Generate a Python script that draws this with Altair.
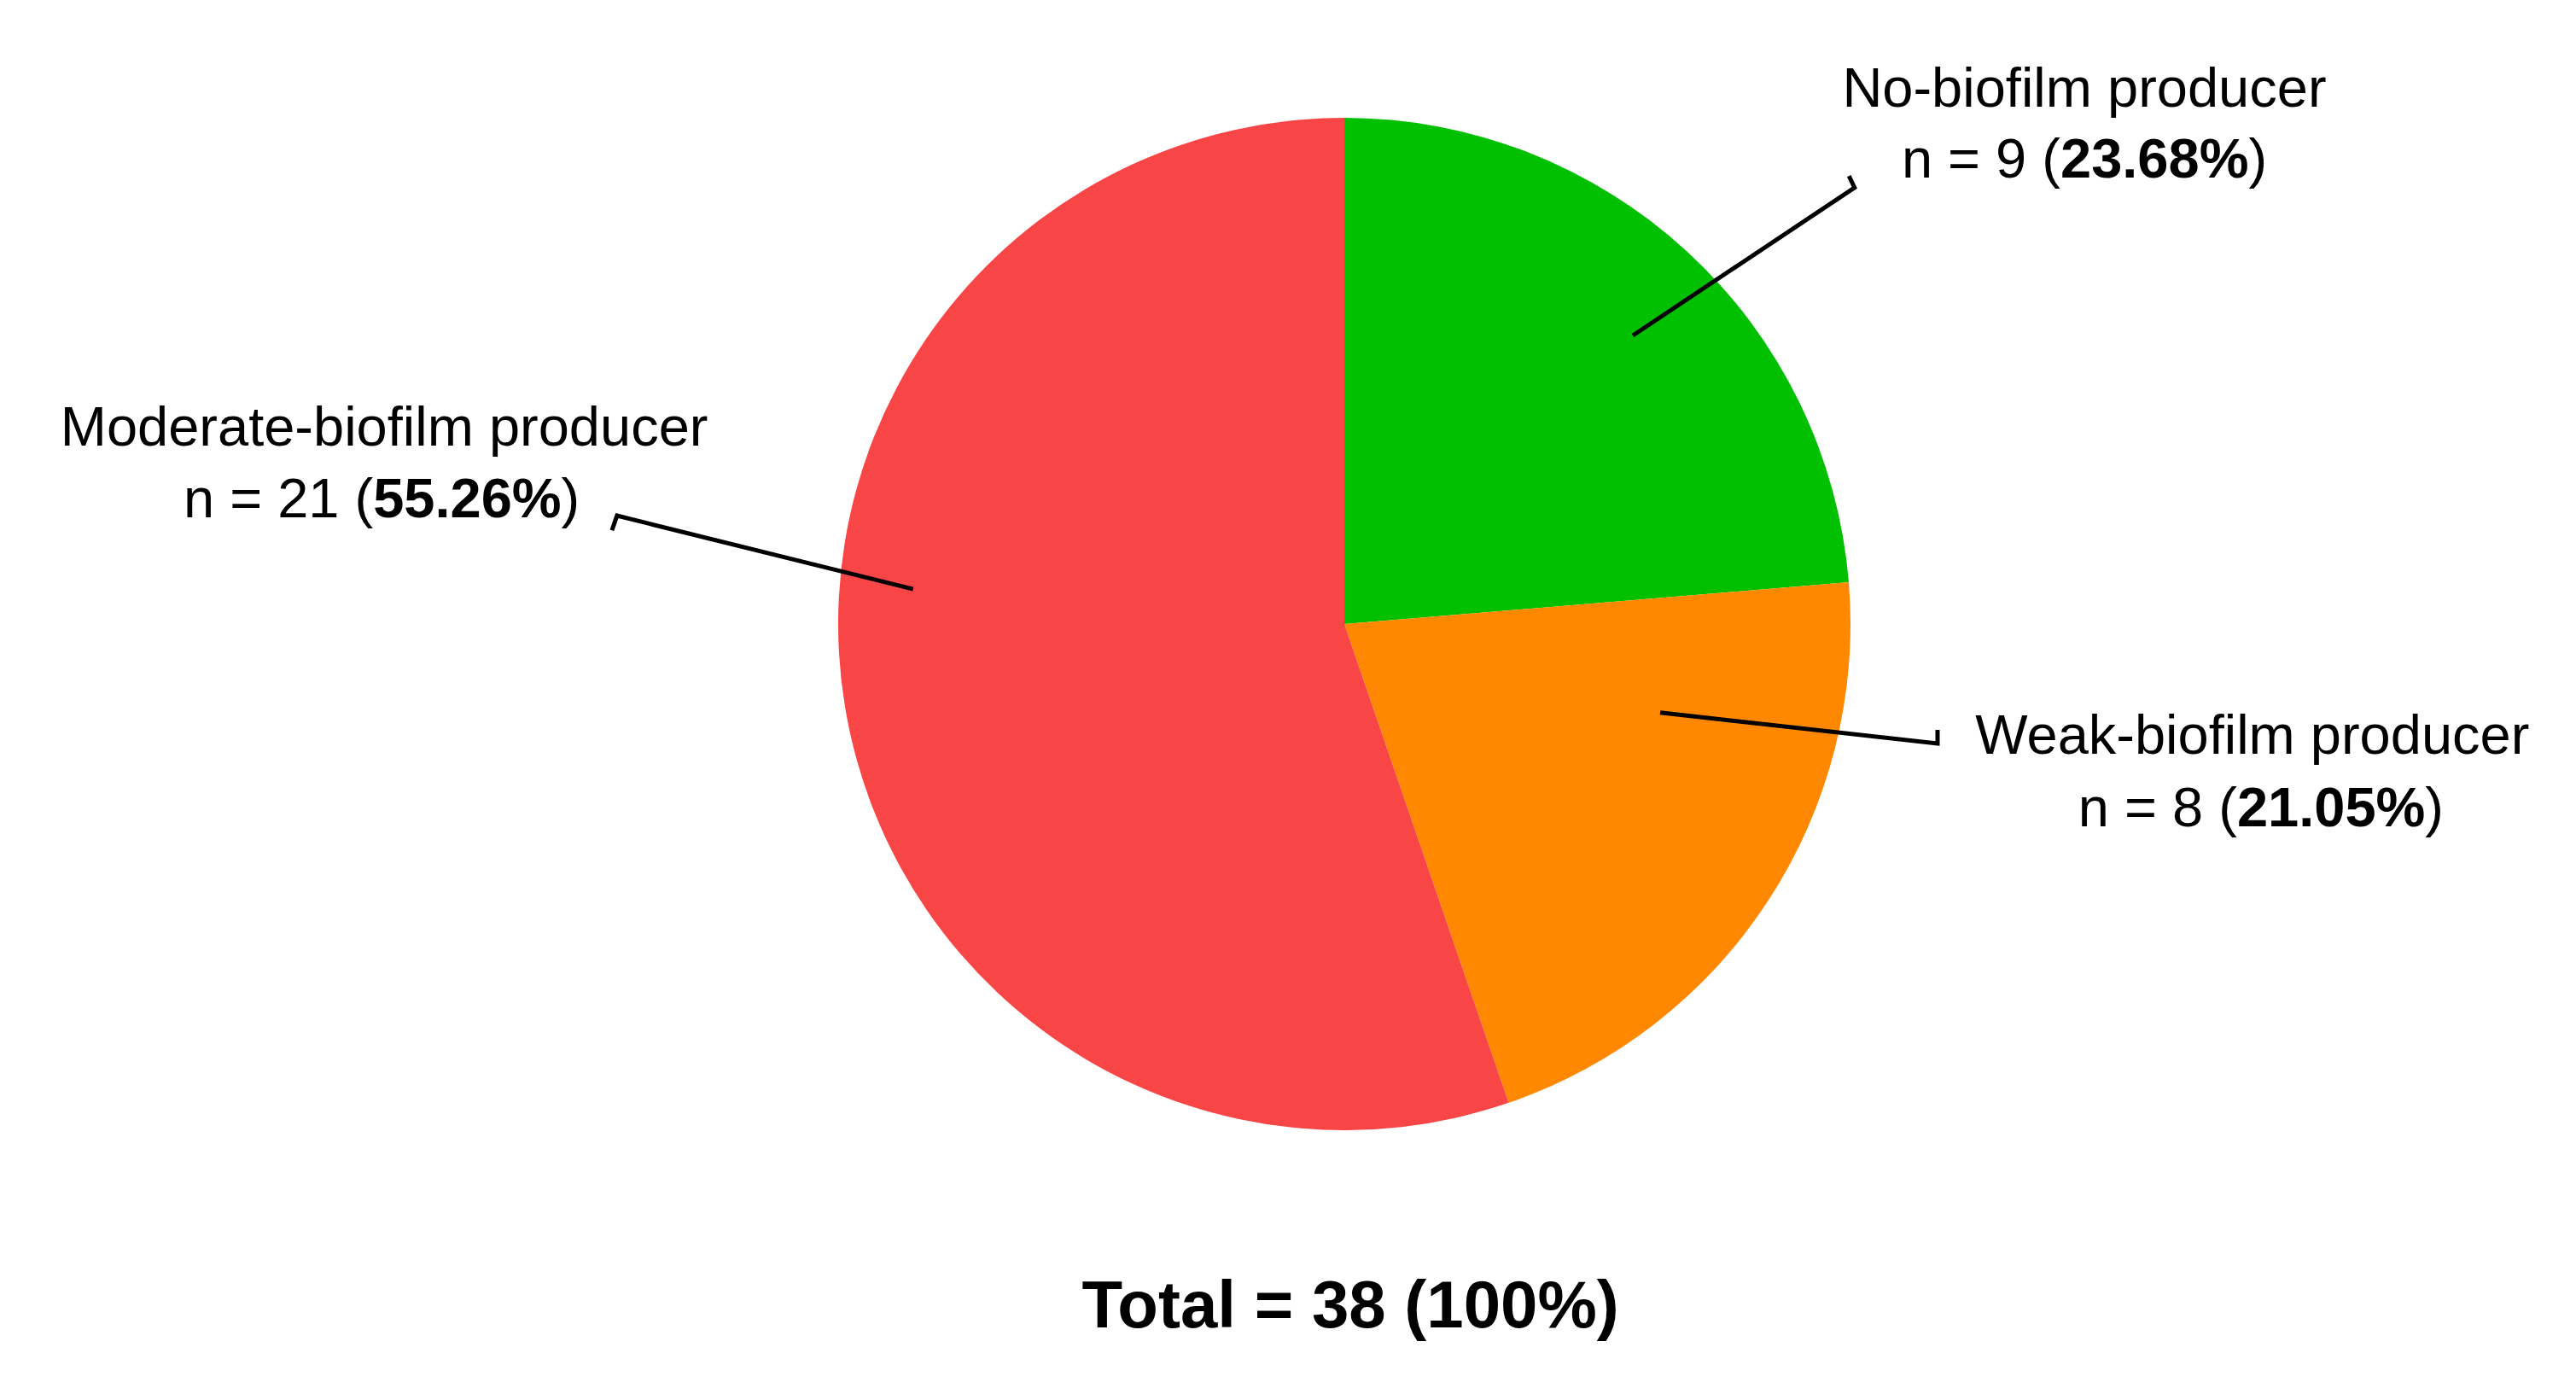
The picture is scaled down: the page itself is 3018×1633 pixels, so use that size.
import altair as alt
import pandas as pd

# ---- data -------------------------------------------------------------
categories = ["No-biofilm producer", "Weak-biofilm producer", "Moderate-biofilm producer"]
counts = [9, 8, 21]
percents = ["23.68%", "21.05%", "55.26%"]
colors = ["#00C000", "#FF8800", "#F84545"]
total_label = "Total = 38 (100%)"

# ---- layout -----------------------------------------------------------
W, H = 3000, 1615          # plot area in px
CX, CY, R = 1567, 723, 593  # pie centre and radius inside the plot area
FS = 65                     # label font size
FS_TOTAL = 78
FONT = "Liberation Sans"

# annotation positions, in pie-radius units relative to the centre (x right, y up)
leader_pts = [
    [(0.570, 0.570), (1.008, 0.862), (0.997, 0.885)],
    [(0.624, -0.175), (1.172, -0.236), (1.172, -0.209)],
    [(-0.852, 0.069), (-1.437, 0.214), (-1.447, 0.185)],
]
name_pos = [(1.462, 1.022), (1.794, -0.256), (-1.897, 0.353)]
count_pos = [(1.462, 0.882), (1.811, -0.399), (-1.902, 0.211)]
total_pos = (0.012, -1.390)

# Arial / Liberation Sans advance widths (1/1000 em) used to chain regular + bold runs
REG = {" ": 278, "n": 556, "=": 584, "(": 333, ")": 333, "%": 889, ".": 278}
BOLD = {" ": 278, "(": 333, ")": 333, "%": 889, ".": 278}


def text_width(s, table, fs):
    return sum(table.get(ch, 556) for ch in s) * fs / 1000.0


# ---- tables -----------------------------------------------------------
pie_df = pd.DataFrame({
    "category": categories,
    "count": counts,
    "order": list(range(len(categories))),
})

line_rows = []
for i, pts in enumerate(leader_pts):
    for j, (u, v) in enumerate(pts):
        line_rows.append({"id": i, "seq": j, "x": u, "y": v})
line_df = pd.DataFrame(line_rows)

name_df = pd.DataFrame({
    "x": [p[0] for p in name_pos],
    "y": [p[1] for p in name_pos],
    "text": categories,
})

reg_rows, bold_rows = [], []
for c, pct, (u, v) in zip(counts, percents, count_pos):
    a, b, d = f"n = {c} (", pct, ")"
    wa = text_width(a, REG, FS) / R
    wb = text_width(b, BOLD, FS) / R
    wd = text_width(d, REG, FS) / R
    left = u - (wa + wb + wd) / 2
    reg_rows.append({"x": left, "y": v, "text": a})
    bold_rows.append({"x": left + wa, "y": v, "text": b})
    reg_rows.append({"x": left + wa + wb, "y": v, "text": d})
reg_df = pd.DataFrame(reg_rows)
bold_df = pd.DataFrame(bold_rows)

total_df = pd.DataFrame({"x": [total_pos[0]], "y": [total_pos[1]], "text": [total_label]})

# ---- scales -----------------------------------------------------------
xs = alt.Scale(domain=[-CX / R, (W - CX) / R], nice=False, zero=False)
ys = alt.Scale(domain=[(CY - H) / R, CY / R], nice=False, zero=False)
X = alt.X("x:Q", scale=xs, axis=None)
Y = alt.Y("y:Q", scale=ys, axis=None)

pie = alt.Chart(pie_df).mark_arc(radius=R).encode(
    theta=alt.Theta("count:Q", stack=True),
    color=alt.Color("category:N", scale=alt.Scale(domain=categories, range=colors), legend=None),
    order=alt.Order("order:Q"),
    x=alt.value(CX),
    y=alt.value(CY),
)

leaders = alt.Chart(line_df).mark_line(color="black", strokeWidth=5, strokeJoin="miter").encode(
    x=X, y=Y, detail="id:N", order="seq:Q"
)

names = alt.Chart(name_df).mark_text(
    font=FONT, fontSize=FS, align="center", baseline="alphabetic", color="black"
).encode(x=X, y=Y, text="text:N")

regs = alt.Chart(reg_df).mark_text(
    font=FONT, fontSize=FS, align="left", baseline="alphabetic", color="black"
).encode(x=X, y=Y, text="text:N")

bolds = alt.Chart(bold_df).mark_text(
    font=FONT, fontSize=FS, fontWeight="bold", align="left", baseline="alphabetic", color="black"
).encode(x=X, y=Y, text="text:N")

total = alt.Chart(total_df).mark_text(
    font=FONT, fontSize=FS_TOTAL, fontWeight="bold", align="center", baseline="alphabetic", color="black"
).encode(x=X, y=Y, text="text:N")

chart = alt.layer(pie, leaders, names, regs, bolds, total).properties(
    width=W, height=H, padding=0, background="white",
    autosize=alt.AutoSizeParams(type="none"),
).configure_view(stroke=None)

chart.save("out.html", embed_options={"renderer": "svg", "actions": False})
